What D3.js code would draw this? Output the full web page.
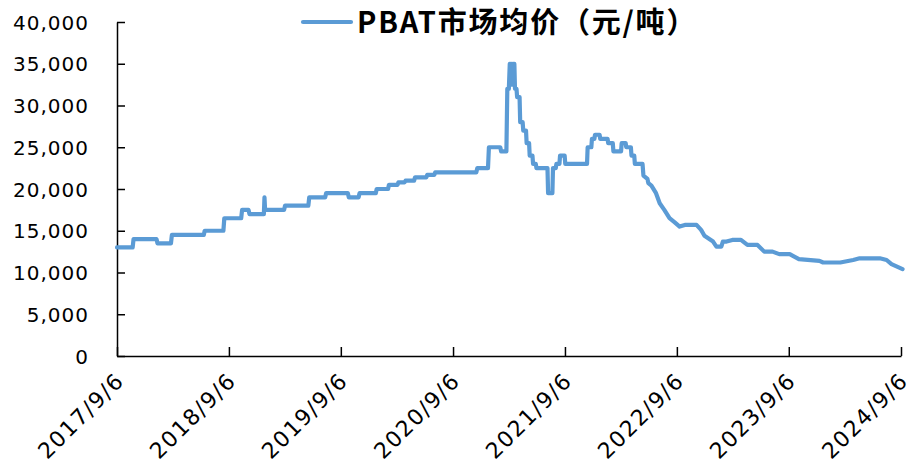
<!DOCTYPE html>
<html>
<head>
<meta charset="utf-8">
<script src="https://cdn.jsdelivr.net/npm/d3@7"></script>
<style>
  body { margin: 0; background: #fff; }
  .axis text { font-family: "DejaVu Sans", sans-serif; font-size: 20px; fill: #000; }
  .axis path, .axis line { stroke: #000; stroke-width: 1.5px; }
  .xLabels text { font-size: 22px; letter-spacing: 1.5px; }
  .legendText { font-family: "Noto Sans CJK SC", sans-serif; font-weight: bold; font-size: 29px; letter-spacing: 1.8px; }
</style>
</head>
<body>
<script>
//chart values
var seriesName = "PBAT市场均价（元/吨）";
var dates = ["2017-09-06","2017-10-27","2017-10-30","2018-01-13","2018-01-16","2018-03-01","2018-03-04",
    "2018-06-16","2018-06-19","2018-08-19","2018-08-22","2018-10-16","2018-10-19","2018-11-09","2018-11-12",
    "2018-12-29","2018-12-31","2019-01-02","2019-03-05","2019-03-08","2019-05-23","2019-05-26","2019-07-17",
    "2019-07-20","2019-09-29","2019-10-02","2019-11-03","2019-11-06","2019-12-29","2020-01-01","2020-02-07",
    "2020-02-10","2020-03-09","2020-03-12","2020-04-01","2020-04-04","2020-05-02","2020-05-05","2020-06-11",
    "2020-06-14","2020-07-07","2020-07-10","2020-11-21","2020-11-24","2020-12-29","2021-01-01","2021-02-07",
    "2021-02-10","2021-02-27","2021-03-02","2021-03-07","2021-03-10","2021-03-12","2021-03-13","2021-03-15",
    "2021-03-16","2021-03-18","2021-03-19","2021-03-21","2021-03-22","2021-03-25","2021-03-27","2021-04-01",
    "2021-04-03","2021-04-11","2021-04-13","2021-04-21","2021-04-23","2021-05-02","2021-05-04","2021-05-12",
    "2021-05-14","2021-05-23","2021-05-25","2021-06-03","2021-06-05","2021-07-11","2021-07-13","2021-07-27",
    "2021-07-29","2021-08-07","2021-08-09","2021-08-19","2021-08-21","2021-09-05","2021-09-07","2021-11-17",
    "2021-11-19","2021-12-01","2021-12-03","2021-12-11","2021-12-13","2021-12-28","2021-12-30","2022-01-23",
    "2022-01-25","2022-02-09","2022-02-11","2022-03-08","2022-03-10","2022-03-23","2022-03-25","2022-04-09",
    "2022-04-11","2022-04-20","2022-04-22","2022-05-17","2022-05-20","2022-06-02","2022-06-05","2022-06-15",
    "2022-06-30","2022-07-12","2022-07-27","2022-08-13","2022-08-30","2022-09-15","2022-10-02","2022-11-09",
    "2022-11-24","2022-12-05","2023-01-02","2023-01-13","2023-01-29","2023-02-03","2023-02-15","2023-03-06",
    "2023-04-03","2023-04-24","2023-05-27","2023-06-18","2023-07-15","2023-08-06","2023-09-09","2023-10-09",
    "2023-12-15","2023-12-27","2024-02-21","2024-04-03","2024-04-24","2024-06-29","2024-07-21","2024-08-06",
    "2024-09-11"];
var prices = [13000,13000,14000,14000,13500,13500,14500,
    14500,15000,15000,16500,16500,17500,17500,17000,
    17000,19000,17500,17500,18000,18000,19000,19000,
    19500,19500,19000,19000,19500,19500,20000,20000,
    20500,20500,20800,20800,21000,21000,21400,21400,
    21700,21700,22000,22000,22500,22500,25000,25000,
    24500,24500,32000,32000,35000,35000,32500,32500,
    35000,35000,33000,33000,35000,35000,32000,32000,
    31000,31000,28000,28000,27000,27000,25500,25500,
    24000,24000,23000,23000,22500,22500,19500,19500,
    22500,22500,23000,23000,24000,24000,23000,23000,
    25000,25000,26000,26000,26500,26500,26000,26000,
    25500,25500,24500,24500,25500,25500,25000,25000,
    24000,24000,23000,23000,21600,21200,20700,20400,
    19500,18300,17500,16500,16000,15500,15700,15700,
    15100,14400,13700,13100,13100,13700,13700,13900,
    13900,13300,13300,12500,12500,12200,12200,11600,
    11400,11200,11200,11500,11700,11700,11500,11000,
    10400];
var xTickLabels = ["2017/9/6","2018/9/6","2019/9/6","2020/9/6","2021/9/6","2022/9/6","2023/9/6","2024/9/6"];
var yTicks = [0,5000,10000,15000,20000,25000,30000,35000,40000];

var width = 915, height = 471;
var margin = {left: 117, right: 14, top: 22, bottom: 115};
var parseDate = d3.timeParse("%Y-%m-%d");
var parseTick = d3.timeParse("%Y/%m/%d");

var data = dates.map(function(d, i){
    return {date: parseDate(d), value: prices[i]};
});

var svg = d3.select("body")
    .append("svg")
    .attr("width", width)
    .attr("height", height);

var x = d3.scaleTime()
    .domain([parseTick(xTickLabels[0]), parseTick(xTickLabels[xTickLabels.length - 1])])
    .range([margin.left, width - margin.right]);

var y = d3.scaleLinear()
    .domain([0, 40000])
    .range([height - margin.bottom, margin.top]);

//y axis, ticks point inward
svg.append("g")
    .attr("class", "axis")
    .attr("transform", "translate(" + margin.left + ",0)")
    .call(d3.axisLeft(y).tickValues(yTicks).tickSize(-8).tickPadding(28)
        .tickSizeOuter(0).tickFormat(d3.format(",")))
    .selectAll("text")
    .attr("dy", "0.36em")
    .style("letter-spacing", "1px");

//x axis with rotated labels
var xAxis = svg.append("g")
    .attr("class", "axis xLabels")
    .attr("transform", "translate(0," + (height - margin.bottom) + ")")
    .call(d3.axisBottom(x).tickValues(xTickLabels.map(parseTick)).tickSize(-9)
        .tickSizeOuter(0).tickFormat(function(d, i){ return xTickLabels[i]; }));

xAxis.selectAll("text")
    .attr("text-anchor", "end")
    .attr("dy", null)
    .attr("y", 0)
    .attr("transform", "translate(8,26) rotate(-45)");

//price line
var line = d3.line()
    .x(function(d){ return x(d.date); })
    .y(function(d){ return y(d.value); });

svg.append("path")
    .datum(data)
    .attr("fill", "none")
    .attr("stroke", "#5B9BD5")
    .attr("stroke-width", 4.2)
    .attr("stroke-linejoin", "round")
    .attr("stroke-linecap", "round")
    .attr("d", line);

//legend
var legend = svg.append("g").attr("transform", "translate(303,22)");
legend.append("line")
    .attr("x1", 0).attr("x2", 48)
    .attr("stroke", "#5B9BD5")
    .attr("stroke-width", 4.2)
    .attr("stroke-linecap", "round");
legend.append("text")
    .attr("class", "legendText")
    .attr("x", 54)
    .attr("y", 11)
    .text(seriesName);
</script>
</body>
</html>
